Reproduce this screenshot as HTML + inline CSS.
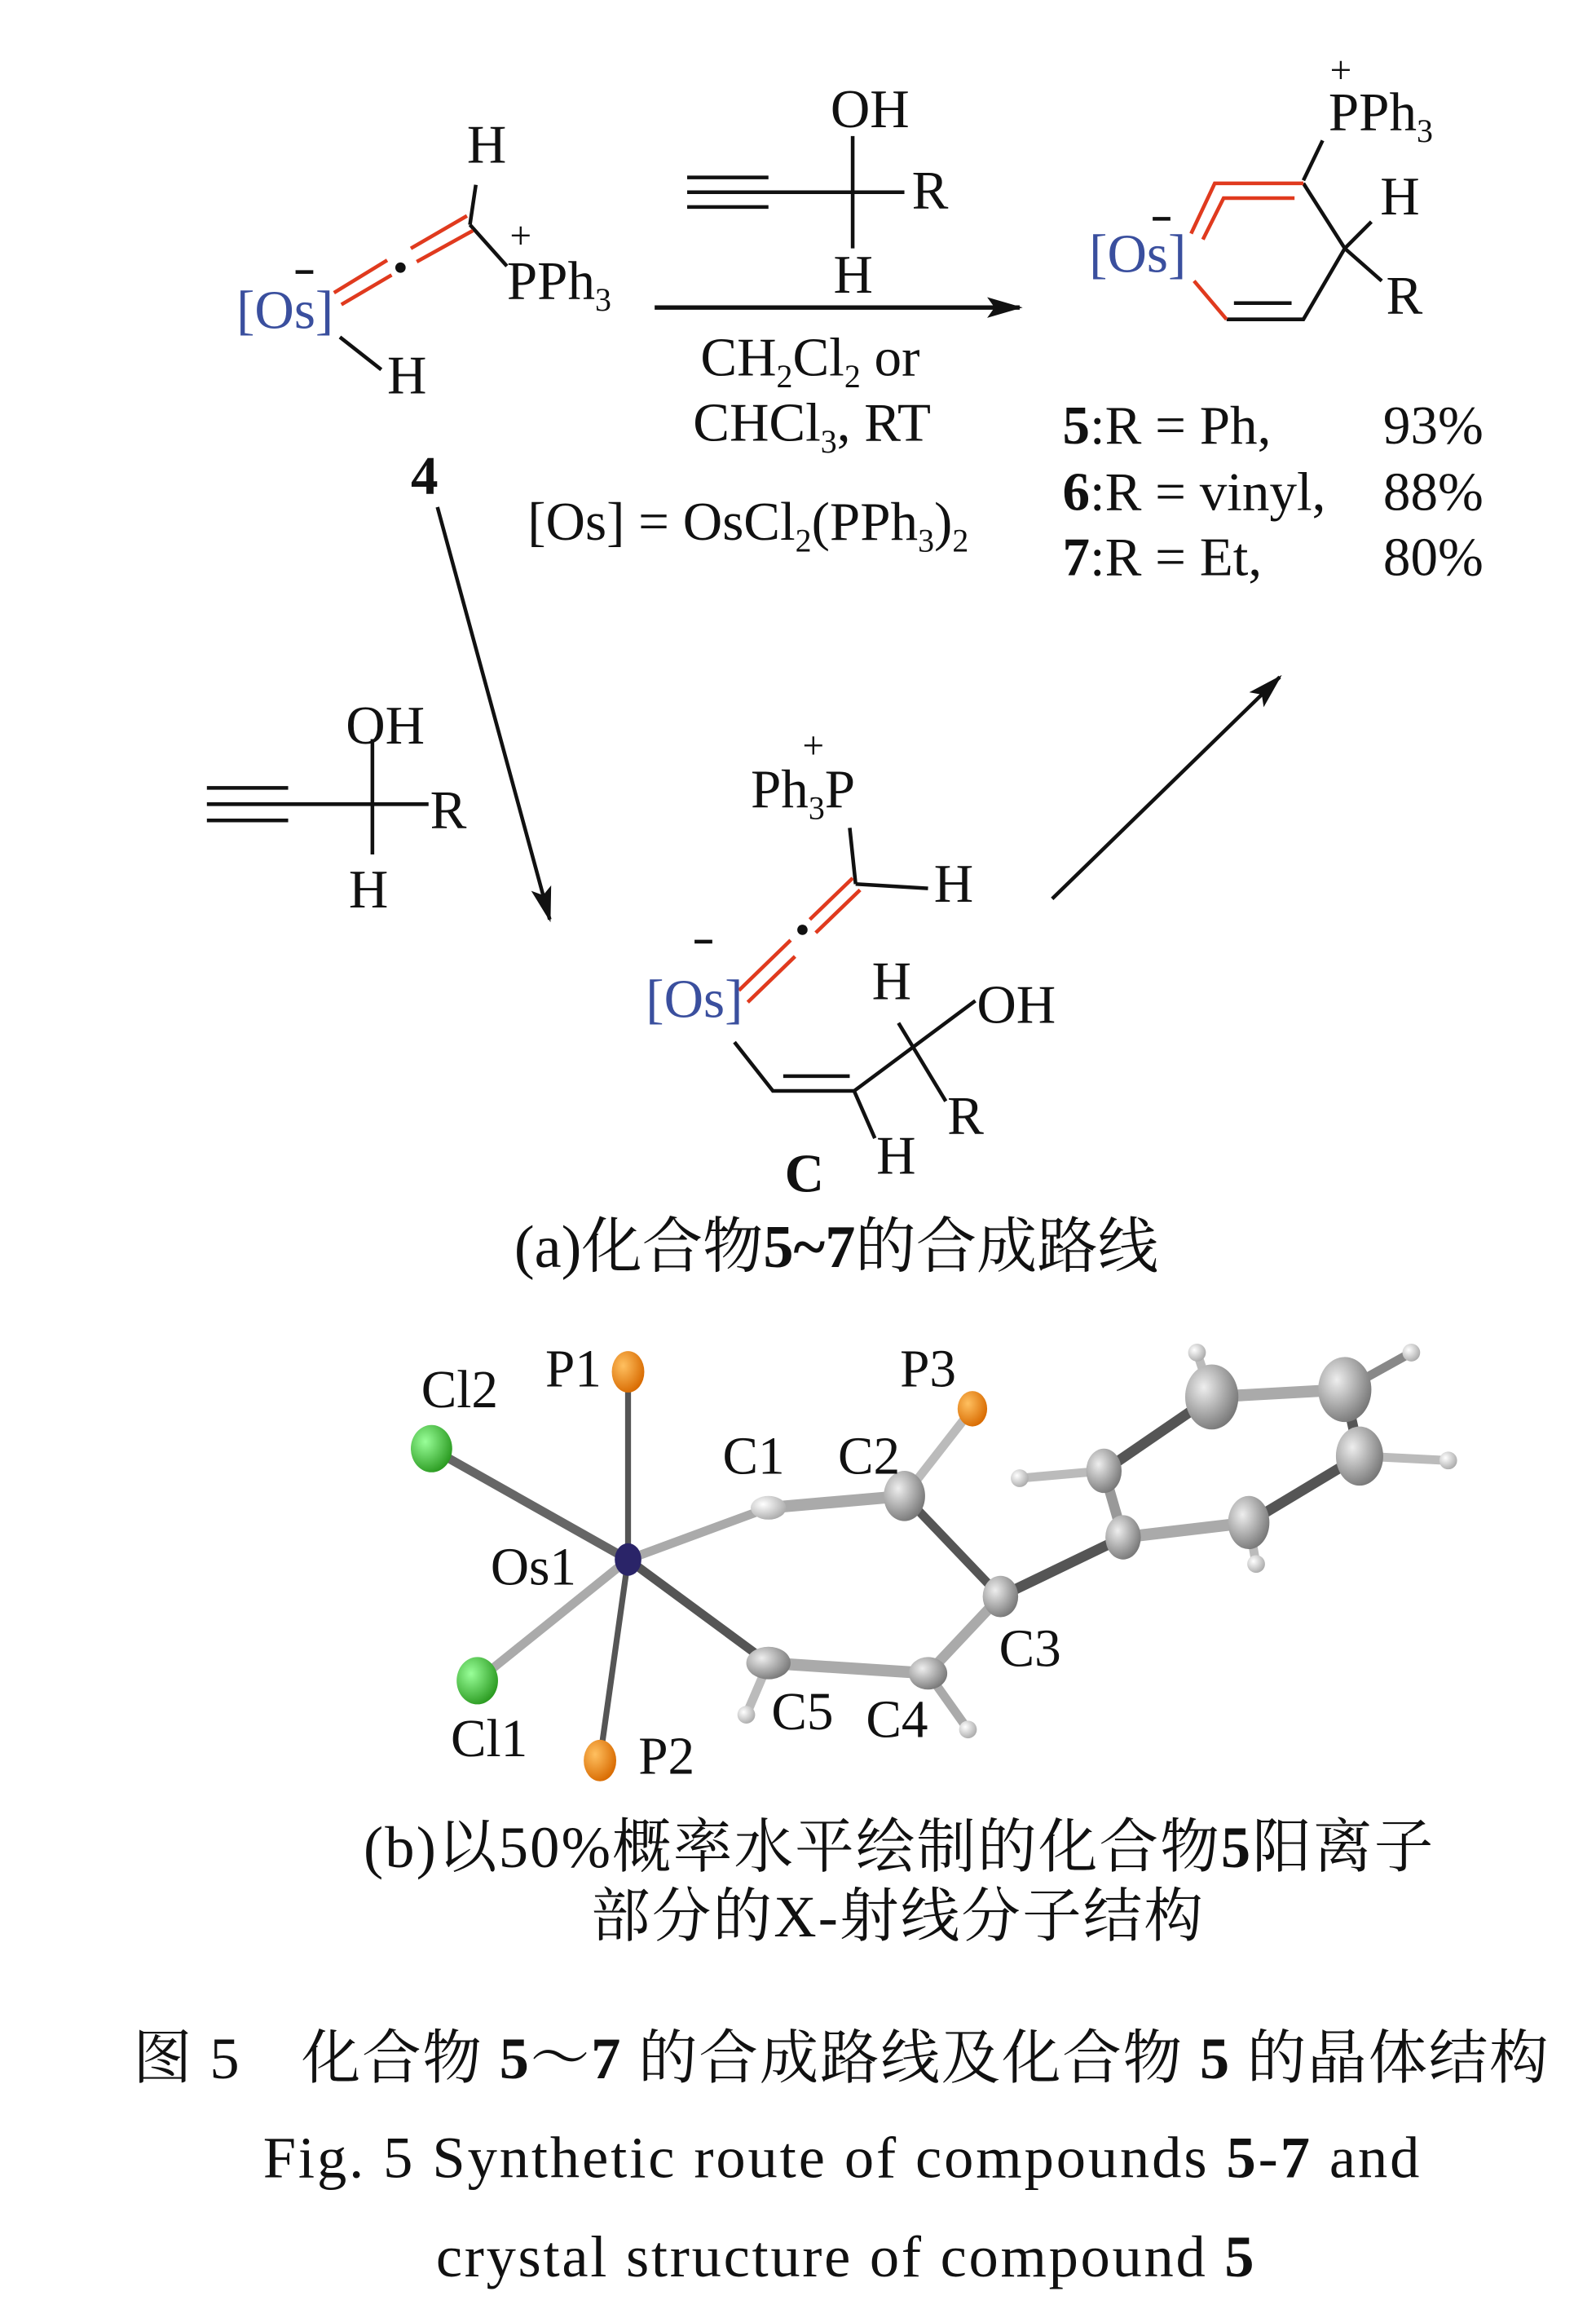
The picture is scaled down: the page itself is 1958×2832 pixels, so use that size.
<!DOCTYPE html>
<html><head><meta charset="utf-8"><style>
html,body{margin:0;padding:0;background:#fff}
svg{display:block}
text{font-family:"Liberation Serif","Noto Serif CJK SC",serif;fill:#111}
.b{fill:#3a4f9e}
</style></head><body>
<svg width="1958" height="2832" viewBox="0 0 1080 1562" xmlns="http://www.w3.org/2000/svg">
<defs>
<marker id="ah2" markerWidth="24" markerHeight="14" refX="22" refY="7" orient="auto" markerUnits="userSpaceOnUse"><path d="M0,0 L24,7 L0,14 L5,7z" fill="#111"/></marker>
<radialGradient id="gg" cx="35%" cy="35%" r="70%"><stop offset="0" stop-color="#eee"/><stop offset="1" stop-color="#777"/></radialGradient>
<radialGradient id="go" cx="35%" cy="35%" r="70%"><stop offset="0" stop-color="#ffc060"/><stop offset="1" stop-color="#d86a00"/></radialGradient>
<radialGradient id="gc" cx="35%" cy="35%" r="70%"><stop offset="0" stop-color="#9f9"/><stop offset="1" stop-color="#2a9a20"/></radialGradient>
<radialGradient id="gw" cx="35%" cy="35%" r="70%"><stop offset="0" stop-color="#fff"/><stop offset="1" stop-color="#aaa"/></radialGradient>
</defs>
<g stroke="#111" stroke-width="2.5" fill="none">
<line x1="318" y1="152" x2="322" y2="125"/>
<line x1="318" y1="152" x2="343" y2="180"/>
<line x1="230" y1="228" x2="258" y2="250"/>
<line x1="465" y1="120" x2="520" y2="120"/>
<line x1="465" y1="130" x2="612" y2="130"/>
<line x1="465" y1="140" x2="520" y2="140"/>
<line x1="577" y1="92" x2="577" y2="168"/>
<line x1="443" y1="208" x2="690" y2="208" stroke-width="3" marker-end="url(#ah2)"/>
<line x1="882" y1="122" x2="895" y2="95"/>
<path d="M882,124 L910,168 L882,216 L830,216"/>
<line x1="835" y1="205" x2="874" y2="205"/>
<line x1="910" y1="168" x2="928" y2="150"/>
<line x1="910" y1="168" x2="935" y2="190"/>
<line x1="296" y1="343" x2="372" y2="622" marker-end="url(#ah2)"/>
<line x1="712" y1="608" x2="866" y2="458" marker-end="url(#ah2)"/>
<line x1="140" y1="533" x2="195" y2="533"/>
<line x1="140" y1="544" x2="290" y2="544"/>
<line x1="140" y1="555" x2="195" y2="555"/>
<line x1="252" y1="500" x2="252" y2="578"/>
<line x1="575" y1="560" x2="579" y2="598"/>
<line x1="579" y1="598" x2="628" y2="601"/>
<path d="M497,705 L523,738 L578,738 L660,677"/>
<line x1="530" y1="728" x2="575" y2="728"/>
<line x1="608" y1="692" x2="640" y2="745"/>
<line x1="578" y1="738" x2="592" y2="770"/>
</g>
<g stroke="#e03a1e" stroke-width="2.5" fill="none">
<line x1="226" y1="198" x2="262" y2="176"/><line x1="231" y1="206" x2="265" y2="186"/>
<line x1="278" y1="168" x2="316" y2="146"/><line x1="282" y1="177" x2="320" y2="156"/>
<path d="M806,158 L822,124 L882,124"/>
<path d="M814,162 L828,134 L876,134"/>
<line x1="830" y1="216" x2="808" y2="190"/>
<line x1="500" y1="670" x2="535" y2="636"/><line x1="506" y1="678" x2="538" y2="647"/>
<line x1="548" y1="622" x2="577" y2="594"/><line x1="552" y1="631" x2="582" y2="602"/>
</g>
<circle cx="271" cy="181" r="3.5" fill="#111"/>
<circle cx="543" cy="629" r="3.5" fill="#111"/>
<g stroke="#111" stroke-width="2.5">
<line x1="200" y1="184" x2="212" y2="184"/>
<line x1="780" y1="148" x2="792" y2="148"/>
<line x1="470" y1="637" x2="482" y2="637"/>
</g>
<g font-size="37">
<text x="316" y="110">H</text>
<text x="345" y="168" font-size="26">+</text>
<text x="343" y="202">PPh<tspan font-size="22" dy="8">3</tspan></text>
<text x="160" y="222" class="b">[Os]</text>
<text x="262" y="266">H</text>
<text x="278" y="334" font-weight="bold">4</text>
<text x="562" y="86">OH</text>
<text x="617" y="141">R</text>
<text x="564" y="198">H</text>
<text x="474" y="254">CH<tspan font-size="22" dy="8">2</tspan><tspan dy="-8">Cl</tspan><tspan font-size="22" dy="8">2</tspan><tspan dy="-8"> or</tspan></text>
<text x="469" y="298">CHCl<tspan font-size="22" dy="8">3</tspan><tspan dy="-8">, RT</tspan></text>
<text x="357" y="365">[Os] = OsCl<tspan font-size="22" dy="8">2</tspan><tspan dy="-8">(PPh</tspan><tspan font-size="22" dy="8">3</tspan><tspan dy="-8">)</tspan><tspan font-size="22" dy="8">2</tspan></text>
<text x="900" y="56" font-size="26">+</text>
<text x="899" y="88">PPh<tspan font-size="22" dy="8">3</tspan></text>
<text x="934" y="145">H</text>
<text x="938" y="212">R</text>
<text x="737" y="184" class="b">[Os]</text>
<text x="719" y="300"><tspan font-weight="bold">5</tspan>:R = Ph,</text><text x="936" y="300">93%</text>
<text x="719" y="345"><tspan font-weight="bold">6</tspan>:R = vinyl,</text><text x="936" y="345">88%</text>
<text x="719" y="389"><tspan font-weight="bold">7</tspan>:R = Et,</text><text x="936" y="389">80%</text>
<text x="234" y="503">OH</text>
<text x="291" y="560">R</text>
<text x="236" y="614">H</text>
<text x="543" y="513" font-size="26">+</text>
<text x="508" y="546">Ph<tspan font-size="22" dy="8">3</tspan><tspan dy="-8">P</tspan></text>
<text x="632" y="610">H</text>
<text x="437" y="688" class="b">[Os]</text>
<text x="590" y="676">H</text>
<text x="661" y="692">OH</text>
<text x="641" y="767">R</text>
<text x="593" y="794">H</text>
<text x="531" y="806" font-weight="bold">C</text>
<text x="348" y="857" font-size="41">(a)化合物<tspan font-weight="bold">5~7</tspan>的合成路线</text>
</g>
<g stroke-linecap="round">
<line x1="425" y1="928" x2="425" y2="1055" stroke="#555" stroke-width="4"/>
<line x1="425" y1="1055" x2="406" y2="1190" stroke="#555" stroke-width="4"/>
<line x1="292" y1="980" x2="425" y2="1055" stroke="#666" stroke-width="6"/>
<line x1="323" y1="1137" x2="425" y2="1055" stroke="#aaa" stroke-width="6"/>
<line x1="425" y1="1055" x2="520" y2="1020" stroke="#aaa" stroke-width="6"/>
<line x1="425" y1="1055" x2="520" y2="1125" stroke="#555" stroke-width="6"/>
<line x1="520" y1="1020" x2="612" y2="1012" stroke="#aaa" stroke-width="8"/>
<line x1="612" y1="1012" x2="658" y2="953" stroke="#bbb" stroke-width="6"/>
<line x1="612" y1="1012" x2="677" y2="1080" stroke="#555" stroke-width="6"/>
<line x1="677" y1="1080" x2="628" y2="1132" stroke="#aaa" stroke-width="7"/>
<line x1="628" y1="1132" x2="520" y2="1125" stroke="#aaa" stroke-width="8"/>
<line x1="520" y1="1125" x2="505" y2="1160" stroke="#bbb" stroke-width="6"/>
<line x1="628" y1="1132" x2="655" y2="1170" stroke="#aaa" stroke-width="6"/>
<line x1="677" y1="1080" x2="760" y2="1040" stroke="#555" stroke-width="7"/>
<line x1="760" y1="1040" x2="747" y2="995" stroke="#999" stroke-width="7"/>
<line x1="747" y1="995" x2="820" y2="945" stroke="#555" stroke-width="7"/>
<line x1="820" y1="945" x2="910" y2="940" stroke="#aaa" stroke-width="8"/>
<line x1="910" y1="940" x2="920" y2="985" stroke="#555" stroke-width="7"/>
<line x1="920" y1="985" x2="845" y2="1030" stroke="#555" stroke-width="7"/>
<line x1="845" y1="1030" x2="760" y2="1040" stroke="#aaa" stroke-width="8"/>
<line x1="747" y1="995" x2="690" y2="1000" stroke="#bbb" stroke-width="6"/>
<line x1="845" y1="1030" x2="850" y2="1058" stroke="#bbb" stroke-width="6"/>
<line x1="910" y1="940" x2="955" y2="915" stroke="#888" stroke-width="6"/>
<line x1="920" y1="985" x2="980" y2="988" stroke="#bbb" stroke-width="6"/>
<line x1="820" y1="945" x2="810" y2="915" stroke="#bbb" stroke-width="6"/>
</g>
<ellipse cx="425" cy="928" rx="11" ry="14" fill="url(#go)"/>
<ellipse cx="406" cy="1191" rx="11" ry="14" fill="url(#go)"/>
<ellipse cx="658" cy="953" rx="10" ry="12" fill="url(#go)"/>
<ellipse cx="292" cy="980" rx="14" ry="16" fill="url(#gc)"/>
<ellipse cx="323" cy="1137" rx="14" ry="16" fill="url(#gc)"/>
<ellipse cx="425" cy="1055" rx="9" ry="11" fill="#2a2468"/>
<ellipse cx="520" cy="1020" rx="12" ry="8" fill="url(#gw)"/>
<ellipse cx="612" cy="1012" rx="14" ry="17" fill="url(#gg)"/>
<ellipse cx="677" cy="1080" rx="12" ry="14" fill="url(#gg)"/>
<ellipse cx="628" cy="1132" rx="13" ry="11" fill="url(#gg)"/>
<ellipse cx="520" cy="1125" rx="15" ry="11" fill="url(#gg)"/>
<ellipse cx="760" cy="1040" rx="12" ry="15" fill="url(#gg)"/>
<ellipse cx="747" cy="995" rx="12" ry="15" fill="url(#gg)"/>
<ellipse cx="820" cy="945" rx="18" ry="22" fill="url(#gg)"/>
<ellipse cx="910" cy="940" rx="18" ry="22" fill="url(#gg)"/>
<ellipse cx="920" cy="985" rx="16" ry="20" fill="url(#gg)"/>
<ellipse cx="845" cy="1030" rx="14" ry="18" fill="url(#gg)"/>
<g fill="url(#gw)">
<circle cx="505" cy="1160" r="6"/><circle cx="655" cy="1170" r="6"/><circle cx="690" cy="1000" r="6"/>
<circle cx="850" cy="1058" r="6"/><circle cx="955" cy="915" r="6"/><circle cx="980" cy="988" r="6"/><circle cx="810" cy="915" r="6"/>
</g>
<g font-size="36">
<text x="285" y="952">Cl2</text>
<text x="369" y="938">P1</text>
<text x="609" y="938">P3</text>
<text x="489" y="997">C1</text>
<text x="567" y="997">C2</text>
<text x="332" y="1072">Os1</text>
<text x="676" y="1127">C3</text>
<text x="522" y="1170">C5</text>
<text x="586" y="1175">C4</text>
<text x="305" y="1188">Cl1</text>
<text x="432" y="1200">P2</text>
<text x="246" y="1263" font-size="40" letter-spacing="1.2">(b)以50%概率水平绘制的化合物<tspan font-weight="bold">5</tspan>阳离子</text>
<text x="400" y="1310" font-size="40" letter-spacing="1.2">部分的X-射线分子结构</text>
<text x="90" y="1406" font-size="40" letter-spacing="1.0">图 5　化合物 <tspan font-weight="bold">5</tspan>～<tspan font-weight="bold">7</tspan> 的合成路线及化合物 <tspan font-weight="bold">5</tspan> 的晶体结构</text>
<text x="178" y="1473" font-size="40" letter-spacing="1.6">Fig. 5   Synthetic route of compounds <tspan font-weight="bold">5</tspan>-<tspan font-weight="bold">7</tspan> and</text>
<text x="295" y="1540" font-size="40" letter-spacing="1.5">crystal structure of compound <tspan font-weight="bold">5</tspan></text>
</g>
</svg>
</body></html>
